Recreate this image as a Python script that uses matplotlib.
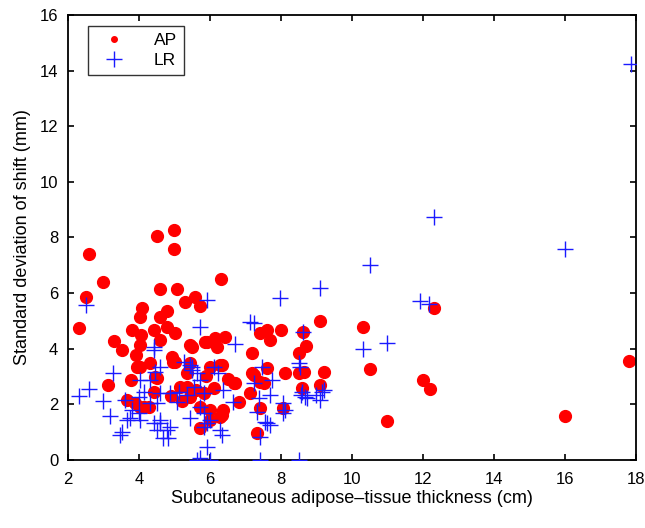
import matplotlib
matplotlib.use("Agg")
import matplotlib.pyplot as plt
from matplotlib.lines import Line2D

plt.rcParams['font.family'] = ['Liberation Sans', 'DejaVu Sans']

ap_x = [2.32, 2.6, 2.52, 3.0, 3.14, 4.5, 5.0, 5.0, 4.6, 5.07, 5.3, 5.59, 5.73, 4.08, 4.02, 4.58, 4.8,
        3.8, 4.06, 4.41, 4.6, 4.79, 5.02, 3.31, 3.52, 4.02, 3.92, 4.93, 5.02, 5.45, 5.92, 4.04, 4.5,
        3.78, 5.35, 3.66, 4.04, 4.27, 5.73, 5.35, 6.32, 5.87, 6.15, 6.41, 6.2, 7.18, 7.42, 7.6, 7.7,
        8.0, 8.62, 8.71, 8.5, 9.1, 6.34, 6.0, 7.6, 7.18, 7.42, 8.12, 8.5, 8.64, 9.2, 8.59, 9.1, 6.71,
        6.81, 7.12, 7.42, 8.07, 7.32, 6.29, 6.38, 5.82, 6.0, 10.3, 10.52, 12.3, 12.0, 12.2, 11.0, 16.0,
        17.8, 3.9, 4.13, 4.32, 3.94, 4.97, 6.29, 6.67, 4.46, 4.41, 5.73, 6.0, 6.34, 5.45, 5.16, 5.49,
        5.45, 7.23, 7.51, 5.6, 6.1, 5.9, 6.5, 5.2, 4.9]
ap_y = [4.74, 7.42, 5.86, 6.4, 2.69, 8.05, 8.26, 7.58, 6.13, 6.13, 5.69, 5.86, 5.53, 5.47, 5.15, 5.15, 5.35,
        4.67, 4.49, 4.67, 4.31, 4.79, 4.57, 4.28, 3.95, 4.13, 3.77, 3.71, 3.53, 4.13, 4.25, 3.35, 2.93,
        2.87, 3.11, 2.15, 1.91, 1.91, 1.14, 2.63, 6.49, 4.25, 4.37, 4.43, 4.07, 3.85, 4.55, 4.67, 4.31,
        4.67, 4.61, 4.09, 3.85, 4.99, 3.41, 3.35, 3.29, 3.11, 2.81, 3.11, 3.13, 3.17, 3.17, 2.57, 2.69, 2.75,
        2.09, 2.39, 1.86, 1.86, 0.96, 1.56, 1.8, 2.39, 1.8, 4.79, 3.27, 5.45, 2.87, 2.55, 1.4, 1.59,
        3.55, 2.04, 1.91, 3.47, 3.35, 3.53, 3.41, 2.75, 2.99, 2.45, 1.91, 1.44, 1.62, 2.27, 2.63, 4.07,
        3.47, 3.05, 2.75, 2.5, 2.6, 3.0, 2.9, 2.1, 2.3]

lr_x = [2.52, 2.3, 2.6, 3.0, 3.28, 3.17, 3.47, 3.61, 3.75, 3.99, 4.41, 4.32, 4.04, 4.13, 4.46, 4.6,
        4.41, 4.6, 4.79, 4.83, 5.12, 5.35, 5.49, 5.63, 5.73, 5.92, 5.82, 5.92, 5.63, 4.32, 3.99, 3.8,
        5.45, 6.71, 7.13, 7.23, 7.96, 9.09, 8.62, 8.5, 7.46, 7.75, 7.7, 7.23, 7.37, 7.32, 7.6, 8.12,
        8.68, 9.15, 9.0, 8.55, 6.38, 6.24, 6.1, 6.0, 5.82, 6.34, 6.0, 7.42, 8.5, 6.66, 12.3, 10.52,
        11.92, 12.16, 10.99, 10.3, 9.2, 9.1, 16.0, 17.85, 3.52, 3.66, 4.04, 4.5, 4.6, 4.5, 4.88, 4.69,
        4.88, 5.07, 5.54, 5.73, 5.82, 5.73, 5.45, 5.92, 6.29, 5.73, 4.6, 5.49, 5.26, 4.41, 8.54, 8.59,
        8.73, 8.07, 8.07, 7.56, 7.7, 7.42]
lr_y = [5.57, 2.3, 2.54, 2.13, 3.14, 1.58, 0.9, 2.15, 1.5, 1.68, 4.07, 2.87, 2.87, 2.45, 3.17, 2.39,
        1.32, 1.32, 1.08, 0.78, 2.45, 2.33, 3.35, 3.11, 4.79, 5.75, 1.68, 0.48, 0.0, 2.04, 2.27, 1.8,
        3.41, 4.17, 4.97, 4.91, 5.81, 6.17, 4.61, 3.49, 3.35, 2.87, 2.33, 2.75, 2.21, 1.73, 1.32, 1.8,
        2.27, 2.45, 2.33, 2.33, 2.51, 3.11, 3.35, 1.44, 1.2, 0.9, 0.0, 0.0, 0.0, 2.09, 8.74, 7.0,
        5.72, 5.6, 4.19, 3.99, 2.51, 2.15, 7.57, 14.24, 1.02, 1.44, 1.44, 2.04, 1.44, 1.08, 1.2, 0.78,
        2.39, 2.09, 2.63, 2.87, 2.39, 1.91, 1.5, 1.32, 1.08, 0.06, 3.35, 3.23, 3.53, 3.95, 3.35, 2.45,
        2.21, 2.04, 1.68, 1.38, 1.26, 0.84]

x_ticks = [2, 4, 6, 8, 10, 12, 14, 16, 18]
y_ticks = [0, 2, 4, 6, 8, 10, 12, 14, 16]

fig = plt.figure(figsize=(6.45, 5.28), dpi=100)
ax = fig.add_axes([0.1054, 0.129, 0.8806, 0.8428])

ax.plot(ap_x, ap_y, linestyle='none', marker='o', markersize=8.5, color='#ff0000',
        markeredgecolor='#ff0000', zorder=2)
ax.plot(lr_x, lr_y, linestyle='none', marker='+', markersize=12, markeredgewidth=1.0,
        color='#1a1aff', zorder=3)

ax.set_xlim(2, 18)
ax.set_ylim(0, 16)
ax.set_xticks(x_ticks)
ax.set_yticks(y_ticks)
ax.tick_params(direction='in', top=True, right=True, length=4, width=1.2, labelsize=12)
ax.tick_params(axis='x', pad=9)
ax.tick_params(axis='y', pad=7)
for s in ax.spines.values():
    s.set_linewidth(1.3)

ax.set_xlabel('Subcutaneous adipose\u2013tissue thickness (cm)', fontsize=13, labelpad=2)
ax.set_ylabel('Standard deviation of shift (mm)', fontsize=13, labelpad=6)

handles = [Line2D([], [], linestyle='none', marker='o', markersize=4, color='#ff0000'),
           Line2D([], [], linestyle='none', marker='+', markersize=12, markeredgewidth=1.0, color='#1a1aff')]
leg = ax.legend(handles, ['AP', 'LR'], loc='upper left', bbox_to_anchor=(0.035, 0.975),
                fontsize=12.5, frameon=True, fancybox=False, handlelength=2.2, handletextpad=1.2,
                borderpad=0.4, labelspacing=0.3, borderaxespad=0)
leg.get_frame().set_edgecolor('black')
leg.get_frame().set_linewidth(1.0)

fig.savefig('out.png', dpi=100)
